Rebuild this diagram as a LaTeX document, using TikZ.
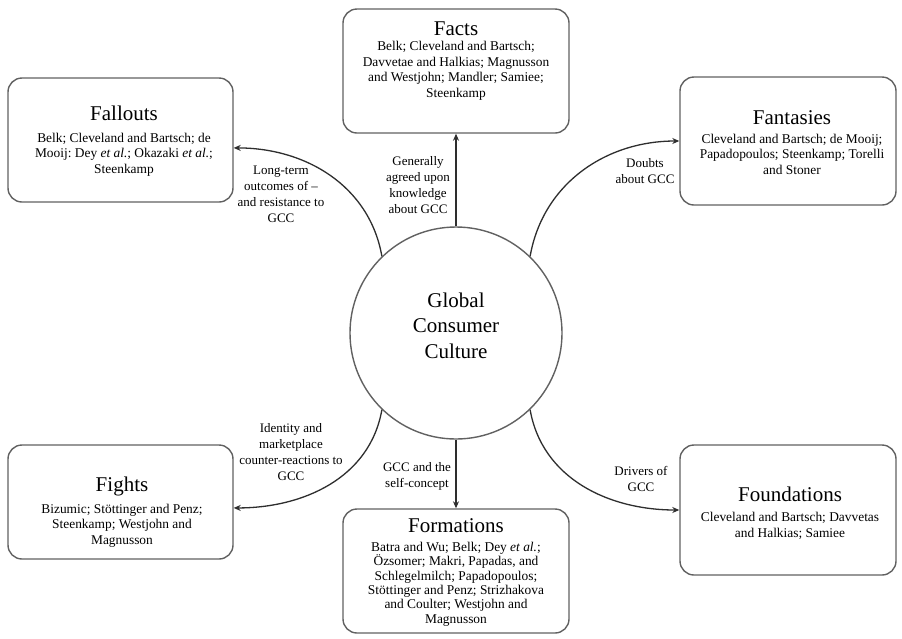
\documentclass[tikz,border=0pt]{standalone}
\usepackage{fontspec}
\setmainfont{Liberation Serif}
\usetikzlibrary{arrows.meta}
\frenchspacing
\begin{document}
\begin{tikzpicture}[x=1pt,y=1pt,
  box/.style={draw=black!62, line width=1.4pt, rounded corners=14pt, fill=white, inner sep=0pt},
  title/.style={font=\fontsize{21}{25}\selectfont, inner sep=0pt, anchor=base},
  body/.style={font=\fontsize{13.4}{15.4}\selectfont, align=center, inner sep=0pt, anchor=base},
  lab/.style={font=\fontsize{13}{15.7}\selectfont, align=center, inner sep=0pt, anchor=base},
  conn/.style={draw=black!82, line width=1.3pt, -{Stealth[length=7pt,width=6pt]}}]
\useasboundingbox[fill=white] (0,0) rectangle (902,-638);
% boxes
\node[box, minimum width=225pt, minimum height=124pt] (fallouts) at (120.5,-140) {};
\node[box, minimum width=226pt, minimum height=124pt] (facts) at (456,-71) {};
\node[box, minimum width=216pt, minimum height=128pt] (fantasies) at (788,-141) {};
\node[box, minimum width=225pt, minimum height=114pt] (fights) at (120.5,-502) {};
\node[box, minimum width=226pt, minimum height=124pt] (formations) at (456,-571) {};
\node[box, minimum width=216pt, minimum height=130pt] (foundations) at (788,-510) {};
% circle
\node[draw=black!62, line width=1.4pt, circle, minimum size=212pt, inner sep=0pt, fill=white] (gcc) at (456,-333) {};
\node[title, align=center, font=\fontsize{21}{25.5}\selectfont] (gcct) at (456,-358) {Global\\Consumer\\Culture};
% box texts (base = baseline of last line)
\node[title] (facts-t) at (456,-35) {Facts};
\node[body] (facts-b) at (456,-97) {Belk; Cleveland and Bartsch;\\Davvetae and Halkias; Magnusson\\and Westjohn; Mandler; Samiee;\\Steenkamp};
\node[title] (fallouts-t) at (124,-120) {Fallouts};
\node[body] (fallouts-b) at (124,-173) {Belk; Cleveland and Bartsch; de\\Mooij: Dey \textit{et al.}; Okazaki \textit{et al.};\\Steenkamp};
\node[title] (fantasies-t) at (792,-124) {Fantasies};
\node[body] (fantasies-b) at (792,-174) {Cleveland and Bartsch; de Mooij;\\Papadopoulos; Steenkamp; Torelli\\and Stoner};
\node[title] (fights-t) at (122,-491) {Fights};
\node[body] (fights-b) at (122,-544) {Bizumic; Stöttinger and Penz;\\Steenkamp; Westjohn and\\Magnusson};
\node[title] (formations-t) at (456,-532) {Formations};
\node[body, font=\fontsize{13.4}{14.3}\selectfont] (formations-b) at (456,-623) {Batra and Wu; Belk; Dey \textit{et al.};\\Özsomer; Makri, Papadas, and\\Schlegelmilch; Papadopoulos;\\Stöttinger and Penz; Strizhakova\\and Coulter; Westjohn and\\Magnusson};
\node[title] (foundations-t) at (790,-501) {Foundations};
\node[body] (foundations-b) at (790,-537) {Cleveland and Bartsch; Davvetas\\and Halkias; Samiee};
% connectors
\draw[conn] (gcc.90) -- (facts.south);
\draw[conn] (gcc.270) -- (formations.north);
\draw[conn] (gcc.134) to[out=100,in=0] (fallouts.-4);
\draw[conn] (gcc.46) to[out=80,in=180] (fantasies.west);
\draw[conn] (gcc.226) to[out=260,in=0] (fights.-3.6);
\draw[conn] (gcc.314) to[out=280,in=180] (foundations.west);
% labels
\node[lab] (l-fallouts) at (281,-222) {Long-term\\outcomes of --\\and resistance to\\GCC};
\node[lab] (l-facts) at (418,-213) {Generally\\agreed upon\\knowledge\\about GCC};
\node[lab] (l-fantasies) at (645,-183) {Doubts\\about GCC};
\node[lab] (l-fights) at (291,-480) {Identity and\\marketplace\\counter-reactions to\\GCC};
\node[lab] (l-formations) at (417,-487) {GCC and the\\self-concept};
\node[lab] (l-foundations) at (641,-491) {Drivers of\\GCC};
\end{tikzpicture}
\end{document}
